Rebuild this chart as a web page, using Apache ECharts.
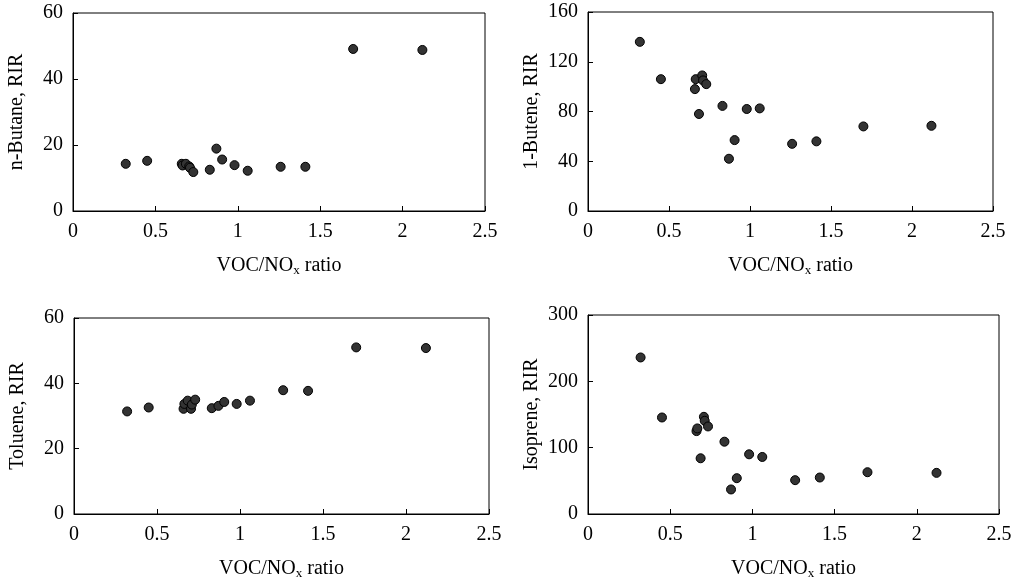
<!DOCTYPE html>
<html>
<head>
<meta charset="utf-8">
<script src="https://cdn.jsdelivr.net/npm/echarts@6/dist/echarts.min.js"></script>
<style>
html,body{margin:0;padding:0;background:#fff;}
#c{width:1019px;height:581px;}
</style>
</head>
<body>
<div id="c"></div>
<script>
// VOC/NOx ratio (shared x values)
var xRatio = [0.32, 0.45, 0.66, 0.665, 0.685, 0.705, 0.71, 0.73, 0.83, 0.87, 0.905, 0.98, 1.06, 1.26, 1.41, 1.70, 2.12];
var butane = [14.3, 15.2, 14.3, 13.8, 14.3, 13.5, 13.1, 11.8, 12.5, 18.9, 15.6, 13.9, 12.2, 13.4, 13.4, 49.1, 48.8];
var butene = [136, 106, 98, 106, 78, 109, 105, 102, 84.5, 42, 57, 82, 82.5, 54, 56, 68, 68.5];
var toluene = [31.4, 32.6, 32.2, 33.7, 34.7, 32.2, 33.5, 35.0, 32.4, 33.1, 34.3, 33.7, 34.7, 37.9, 37.7, 51.0, 50.8];
var isoprene = [236, 145.5, 125, 129, 84, 146.5, 140.5, 132, 109, 37, 54, 90, 86, 51, 55, 63, 62];

var yNames = ['n-Butane, RIR', '1-Butene, RIR', 'Toluene, RIR', 'Isoprene, RIR'];
var yMax = [60, 160, 60, 300];
var yInterval = [20, 40, 20, 100];
var xName = 'VOC/NO{sub|x} ratio';
var seriesY = [butane, butene, toluene, isoprene];

var FONT = 'Liberation Serif';
var grids = [
  {left: 73, top: 13, width: 412, height: 198},
  {left: 588, top: 12, width: 405, height: 199},
  {left: 74, top: 318, width: 415, height: 201},
  {left: 588, top: 315, width: 411, height: 203}
];

var option = {
  backgroundColor: '#fff',
  animation: false,
  grid: grids.map(function (g) {
    return Object.assign({show: true, borderColor: '#000', borderWidth: 1, backgroundColor: 'transparent', containLabel: false}, g);
  }),
  xAxis: grids.map(function (g, i) {
    return {
      gridIndex: i, type: 'value', min: 0, max: 2.5, interval: 0.5,
      name: xName, nameLocation: 'middle', nameGap: 44,
      nameTextStyle: {fontFamily: FONT, fontSize: 20, color: '#000',
        rich: {sub: {fontFamily: FONT, fontSize: 13, color: '#000', verticalAlign: 'bottom', padding: [9, 0, 0, 0]}}},
      axisLine: {show: true, lineStyle: {color: '#000', width: 1}},
      axisTick: {show: true, inside: true, length: 5, lineStyle: {color: '#000'}},
      axisLabel: {fontFamily: FONT, fontSize: 20, color: '#000', margin: 11},
      splitLine: {show: false}
    };
  }),
  yAxis: grids.map(function (g, i) {
    return {
      gridIndex: i, type: 'value', min: 0, max: yMax[i], interval: yInterval[i],
      name: yNames[i], nameLocation: 'middle', nameGap: 46, nameRotate: 90,
      nameTextStyle: {fontFamily: FONT, fontSize: 20, color: '#000'},
      axisLine: {show: true, lineStyle: {color: '#000', width: 1}},
      axisTick: {show: true, inside: true, length: 5, lineStyle: {color: '#000'}},
      axisLabel: {fontFamily: FONT, fontSize: 20, color: '#000', margin: 10},
      splitLine: {show: false}
    };
  }),
  series: seriesY.map(function (ys, i) {
    return {
      type: 'scatter', xAxisIndex: i, yAxisIndex: i,
      symbol: 'circle', symbolSize: 9,
      itemStyle: {color: '#333', borderColor: '#000', borderWidth: 1, opacity: 1},
      data: xRatio.map(function (x, k) { return [x, ys[k]]; })
    };
  })
};

var chart = echarts.init(document.getElementById('c'), null, {renderer: 'canvas'});
chart.setOption(option);
</script>
</body>
</html>
